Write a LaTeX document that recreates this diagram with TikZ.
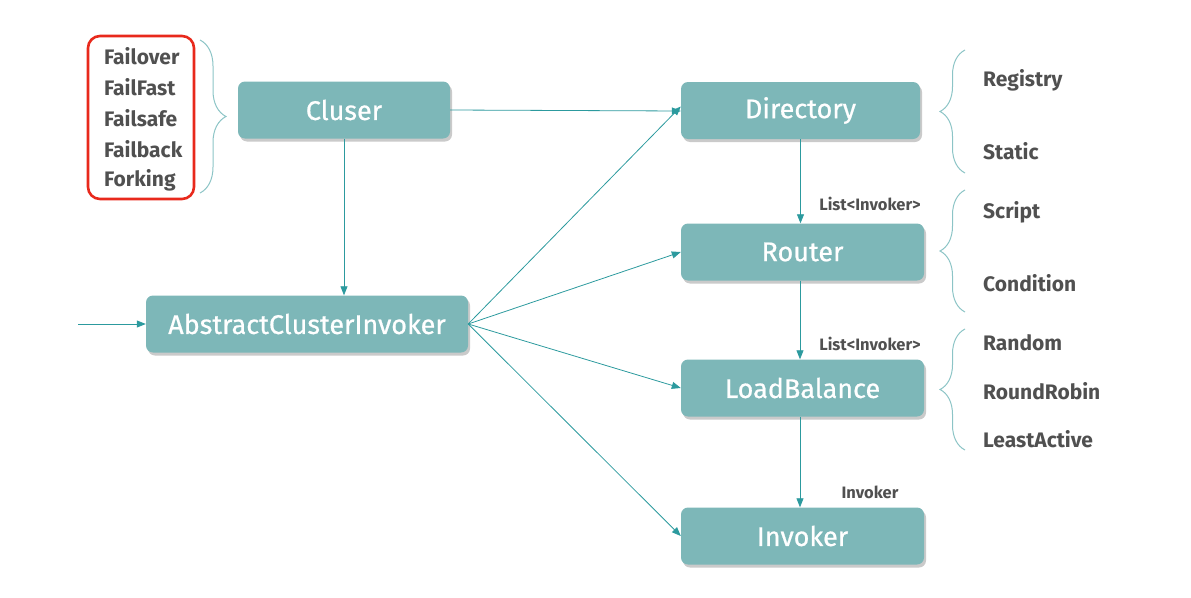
\documentclass[tikz,border=0pt]{standalone}
\usepackage{fontspec}
\setmainfont{Fira Sans}
\newfontfamily\boxfont[FakeBold=0.7]{Fira Sans}
\usetikzlibrary{arrows.meta,shadows,decorations.pathreplacing}
\definecolor{boxfill}{HTML}{7DB7B8}
\definecolor{linec}{HTML}{2C9A9E}
\definecolor{bracec}{HTML}{8CC4C6}
\definecolor{txt}{HTML}{505050}
\definecolor{redbox}{HTML}{E8291C}
\tikzset{
  box/.style={rectangle, rounded corners=7pt, fill=boxfill, text=white, minimum height=57pt,
    font=\boxfont\fontsize{27}{30}\selectfont, inner sep=0pt,
    drop shadow={shadow xshift=2pt, shadow yshift=-3pt, opacity=0.35, fill=black!60}},
  conn/.style={draw=linec, line width=0.8pt, -{Triangle[length=9pt,width=7pt]}},
  item/.style={anchor=west, text=txt, font=\fontsize{21}{24}\selectfont\bfseries, inner sep=0pt},
  lab/.style={text=txt, font=\fontsize{16.5}{18}\selectfont\bfseries, inner sep=0pt},
  brc/.style={draw=bracec, line width=1pt, decorate, decoration={brace, amplitude=26pt}},
  brcr/.style={draw=bracec, line width=1pt, decorate, decoration={brace, mirror, amplitude=25pt}},
  redframe/.style={draw=redbox, line width=2.6pt, rounded corners=12pt, inner sep=0pt,
    minimum width=106pt, minimum height=163pt},
}
\begin{document}
\begin{tikzpicture}[x=1pt,y=-1pt]
\useasboundingbox (0,0) rectangle (1191,597);
% nodes
\node[box, minimum width=212pt] (cl) at (344,110) {Cluser};
\node[box, minimum width=239pt] (di) at (800.5,110.5) {Directory};
\node[box, minimum width=243pt] (ro) at (802.5,252) {Router};
\node[box, minimum width=243pt] (lb) at (802.5,388) {LoadBalance};
\node[box, minimum width=243pt] (in) at (802.5,536) {Invoker};
\node[box, minimum width=322pt] (ac) at (307,324) {AbstractClusterInvoker};
\coordinate (start) at (78,324);
% connectors
\draw[conn] (start) -- (ac.west);
\draw[conn] (cl.south) -- (ac.north -| cl.south);
\draw[conn] (cl.east) -- (di.west |- 0,111);
\draw[conn] (ac.east) -- ([yshift=4pt]di.west);
\draw[conn] (ac.east) -- (ro.west);
\draw[conn] (ac.east) -- (lb.west);
\draw[conn] (ac.east) -- (in.west);
\draw[conn] (di.south) -- (ro.north -| di.south);
\draw[conn] (ro.south -| 800,0) -- (lb.north -| 800,0);
\draw[conn] (lb.south -| 800,0) -- (in.north -| 800,0);
% edge labels
\node[lab] (l1) at (870,204) {List<Invoker>};
\node[lab] (l2) at (870,344) {List<Invoker>};
\node[lab] (l3) at (870,492) {Invoker};
% left list
\node[item] (f1) at (104,56) {Failover};
\node[item] (f2) at (104,87) {FailFast};
\node[item] (f3) at (104,118) {Failsafe};
\node[item] (f4) at (104,149) {Failback};
\node[item] (f5) at (104,180) {Forking};
\node[redframe] (rb) at (141,117.5) {};
\draw[brc] (200,40) -- (200,193);
% right lists
\node[item] (r1) at (983,80) {Registry};
\node[item] (r2) at (983,151) {Static};
\node[item] (r3) at (983,212) {Script};
\node[item] (r4) at (983,283) {Condition};
\node[item] (r5) at (983,343) {Random};
\node[item] (r6) at (983,391) {RoundRobin};
\node[item] (r7) at (983,439) {LeastActive};
\draw[brcr] (965,50) -- (965,173);
\draw[brcr] (965,190) -- (965,312);
\draw[brcr] (965,329) -- (965,450);
\end{tikzpicture}
\end{document}
